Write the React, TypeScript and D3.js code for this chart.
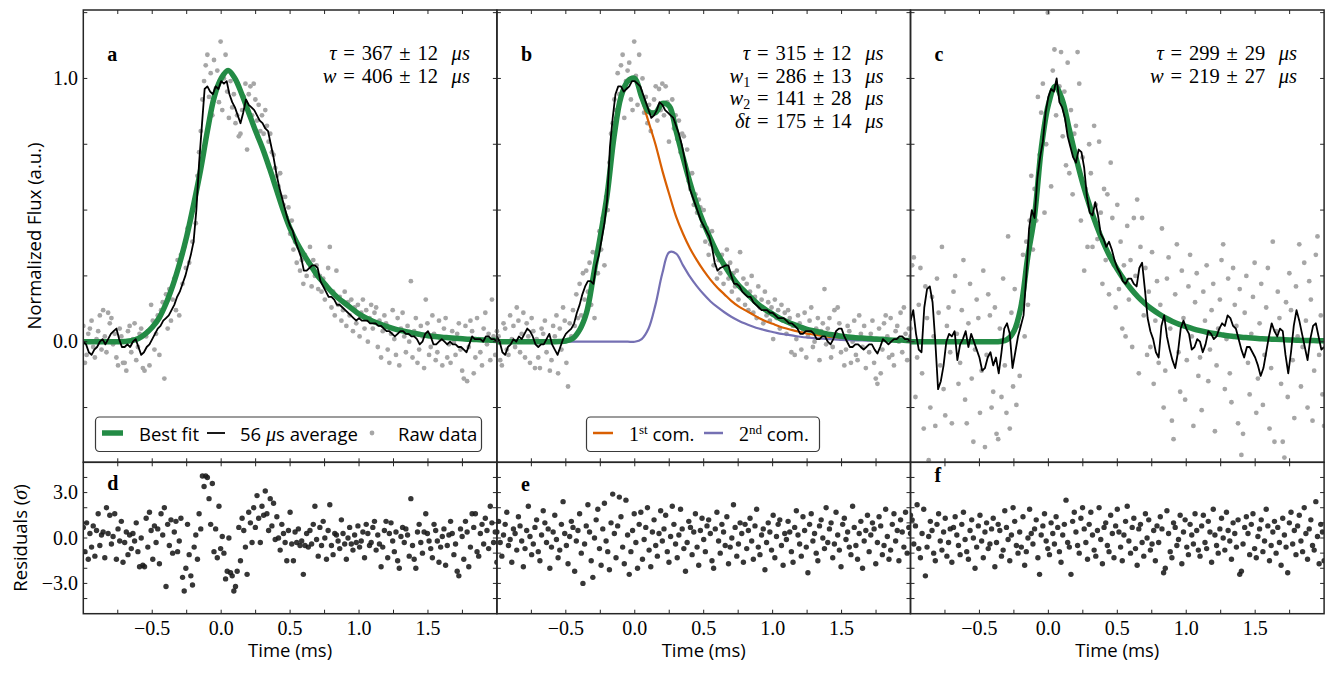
import React from "react";
import * as d3 from "d3";

const W = 1334;
const H = 674;

// time grids in ms; every series below starts at T0
const T0 = -1;
const rawStep = 0.012; // raw samples and residuals
const avgStep = 0.02; // 56 us running average
const fitStep = 0.05; // model curves

const timeDomain = [-1, 2];
const fluxDomain = [-0.458, 1.26];
const residDomain = [-5, 5];

const timeTicks = d3.range(-0.75, 1.9, 0.25);
const timeLabels = [-0.5, 0, 0.5, 1, 1.5];
const fluxTicks = d3.range(-0.25, 1.26, 0.25);
const fluxLabels = [0, 1];
const residTicks = d3.range(-4, 4.01, 1);
const residLabels = [-3, 0, 3];

// ---- panel a ----
const rawA = [
  0.06, -0.08, -0.05, 0.03, 0.05, 0.08, -0.02, -0.06, 0.01, 0.04, 0.1, -0.03, 0.12, 0.02, -0.04, 0.11, 0.07, 0.09, -0.01, 0.03, -0.06, -0.09, 0.05, 0.02, -0.08,
  -0.08, -0.11, 0.04, 0.06, -0.04, 0.01, 0.07, -0.07, -0.02, 0.03, 0.05, -0.1, -0.11, 0.02, 0.04, -0.09, 0.14, 0.08, -0.03, 0.03, 0.1, -0.05, 0.12, 0.15, -0.14,
  0.18, 0.05, 0.2, 0.08, 0.16, 0.24, 0.12, 0.31, 0.1, 0.33, 0.22, 0.36, 0.28, 0.43, 0.3, 0.47, 0.38, 0.52, 0.45, 0.63, 0.72, 0.8, 0.92, 0.99, 1.05,
  1.09, 0.93, 1.02, 0.86, 1.07, 0.96, 1.03, 0.91, 1.14, 0.88, 1.0, 1.09, 0.95, 0.85, 0.99, 0.89, 0.94, 0.83, 0.86, 0.78, 0.79, 0.88, 0.93, 0.98, 0.73,
  0.94, 0.97, 0.86, 0.98, 0.92, 0.84, 0.9, 0.8, 0.86, 0.79, 0.88, 0.82, 0.76, 0.79, 0.72, 0.71, 0.66, 0.63, 0.59, 0.64, 0.55, 0.52, 0.55, 0.47, 0.51,
  0.41, 0.46, 0.35, 0.38, 0.3, 0.36, 0.27, 0.31, 0.22, 0.33, 0.25, 0.3, 0.36, 0.21, 0.31, 0.25, 0.29, 0.2, 0.25, 0.19, 0.24, 0.16, 0.21, 0.28, 0.36,
  0.13, 0.19, 0.1, 0.27, 0.14, 0.17, 0.08, 0.12, 0.19, 0.06, 0.15, 0.1, 0.16, 0.04, 0.13, 0.07, 0.14, 0.02, 0.11, 0.16, 0.05, 0.12, 0.0, 0.09, 0.14,
  0.05, 0.11, 0.13, -0.02, 0.08, -0.06, 0.04, 0.1, 0.07, -0.03, -0.08, 0.03, 0.12, 0.01, -0.05, 0.09, -0.09, 0.05, 0.11, 0.02, -0.04, 0.06, 0.0, 0.23, -0.06,
  0.04, 0.09, -0.08, -0.03, 0.06, 0.02, -0.1, 0.16, 0.07, -0.05, -0.02, 0.1, 0.03, -0.07, -0.04, 0.08, 0.01, -0.09, 0.05, 0.09, -0.06, -0.01, -0.08, 0.04, 0.0,
  -0.05, 0.03, 0.07, -0.03, -0.11, -0.14, 0.06, -0.15, -0.02, 0.08, 0.04, -0.12, -0.06, 0.09, 0.01, -0.04, -0.09, 0.05, 0.11, -0.01, 0.03, -0.07, 0.16, 0.02, -0.05,
  0.04,
];
const avgA = [
  0.0, -0.01, -0.04, -0.05, -0.03, -0.02, 0.0, 0.01, -0.01, 0.01,
  0.03, 0.04, 0.05, 0.01, -0.02, -0.02, -0.01, -0.02, 0.0, 0.01,
  -0.02, -0.05, -0.04, -0.02, -0.01, 0.01, 0.03, 0.05, 0.06, 0.08,
  0.09, 0.1, 0.12, 0.14, 0.17, 0.19, 0.22, 0.25, 0.29, 0.33,
  0.38, 0.5, 0.68, 0.82, 0.96, 0.97, 0.95, 0.94, 0.97, 0.96,
  0.99, 0.98, 0.99, 0.94, 0.91, 0.89, 0.86, 0.83, 0.87, 0.92,
  0.9, 0.89, 0.88, 0.86, 0.84, 0.83, 0.81, 0.8, 0.75, 0.7,
  0.64, 0.59, 0.55, 0.51, 0.47, 0.44, 0.42, 0.38, 0.35, 0.32,
  0.27, 0.27, 0.28, 0.29, 0.29, 0.28, 0.23, 0.21, 0.19, 0.17,
  0.17, 0.16, 0.14, 0.14, 0.13, 0.12, 0.11, 0.1, 0.09, 0.08,
  0.09, 0.08, 0.08, 0.08, 0.07, 0.07, 0.07, 0.06, 0.06, 0.05,
  0.04, 0.04, 0.03, 0.02, 0.03, 0.04, 0.04, 0.03, 0.03, 0.02,
  0.02, 0.01, -0.01, 0.0, 0.03, 0.04, 0.02, -0.01, -0.01, 0.0,
  0.01, 0.0, -0.01, 0.0, -0.01, -0.01, -0.02, -0.02, -0.03, -0.04,
  -0.01, 0.02, 0.01, 0.01, 0.01, 0.0, 0.02, 0.02, 0.01, 0.01,
  0.0,
];
const fitA = [
  0, 0, 0, 0, 0, 0, 0.001, 0.004, 0.012, 0.03,
  0.055, 0.09, 0.145, 0.215, 0.3, 0.4, 0.52, 0.65, 0.8, 0.93,
  1.0, 1.03, 1.0, 0.94, 0.87, 0.8, 0.735, 0.66, 0.58, 0.5,
  0.43, 0.375, 0.33, 0.29, 0.25, 0.22, 0.19, 0.165, 0.145, 0.125,
  0.105, 0.09, 0.078, 0.068, 0.058, 0.05, 0.043, 0.037, 0.032, 0.027,
  0.023, 0.02, 0.017, 0.015, 0.013, 0.011, 0.009, 0.008, 0.007, 0.006,
  0.005,
];
const resD = [
  0.7, -0.9, 1.0, -1.4, 0.3, -0.6, 0.8, -1.2, 0.5, 1.6, -0.5, 0.2, 0.4, -1.3, 2.0, 0.3, 1.5, -0.4, 0.1, 1.6, -1.4, 0.6, -0.2, 1.1, -1.6,
  -0.3, 0.4, -1.1, 0.2, -0.7, 0.3, -0.2, 1.0, -0.9, -1.9, 0.0, -1.8, -1.9, 1.3, -0.6, 1.7, 0.5, -1.4, 0.8, -0.3, 0.6, -1.7, 1.6, 0.2, 2.0,
  -3.2, 0.9, -0.5, 1.2, -1.0, 0.4, 1.1, -0.9, -0.2, 1.3, -2.6, -3.5, -2.0, 0.9, -1.1, -2.5, -3.1, -0.6, 0.2, -1.4, 1.6, 0.6, 4.1, 3.4, 4.1,
  4.0, 2.6, 0.9, 3.6, -0.9, 0.6, -1.3, 2.1, -0.7, 0.1, -1.0, -2.7, -2.2, 0.0, -2.3, -2.5, -3.5, -3.2, -2.2, 0.7, -1.5, 1.3, 0.5, -0.6, -2.4,
  1.7, 1.0, -0.3, 2.0, 0.7, 2.8, 1.3, -0.3, 2.1, 1.5, 3.1, 1.6, 0.5, 2.6, 0.8, 2.3, -0.1, 1.4, 0.0, -0.8, 0.9, 0.3, -0.3, -1.5, 0.5,
  1.7, -0.4, -1.5, 0.4, -0.3, 0.6, -0.5, -0.2, -2.4, -0.5, 0.3, -0.6, 0.5, -0.4, 0.9, 2.1, -0.1, -1.2, 0.7, -0.5, 1.1, 0.0, -1.4, 0.5, 2.2,
  -0.5, -1.1, 0.3, 0.2, -0.2, -0.7, 1.2, 0.3, -0.4, -1.4, 0.0, 0.7, -0.4, -0.8, 0.2, -0.3, 0.8, -0.6, -0.2, 0.4, -1.3, 0.9, 0.3, -0.5, -0.3,
  0.7, 1.1, -0.8, 0.2, -0.4, -1.9, -0.6, 0.5, 1.1, -1.3, 0.3, 1.0, -0.2, -0.9, 0.4, -1.5, -2.0, 0.1, 0.7, -0.3, 0.6, 0.2, -1.2, 2.6, -0.5,
  -1.4, -2.0, 0.4, 0.9, -0.3, -1.0, 0.4, 1.6, 0.3, -0.2, -0.7, -1.3, 0.9, 0.5, -0.2, -1.6, -0.6, 0.1, 0.6, -1.8, -0.5, 0.2, 1.1, 0.3, -1.1,
  -0.4, -2.2, -2.5, 0.6, 0.1, -1.4, 1.1, 0.4, -1.9, -0.6, 1.6, 0.7, 1.6, -0.9, -1.2, 0.3, 0.9, -0.4, 1.3, 0.5, -0.7, 2.1, 1.0, -0.3, 0.4,
  -1.6,
];
const paramsA = [
  { sym: "τ", sub: "", val: 367, err: 12 },
  { sym: "w", sub: "", val: 406, err: 12 },
];

// ---- panel b ----
const rawB = [
  0.04, 0.02, -0.07, -0.09, 0.07, 0.05, -0.03, -0.05, 0.1, 0.01, 0.06, -0.02, 0.13, 0.08, -0.04, 0.03, 0.11, -0.06, 0.07, 0.02, -0.08, 0.09, 0.04, -0.1, 0.01,
  -0.06, -0.1, 0.05, 0.03, 0.08, -0.04, 0.0, -0.11, -0.07, 0.06, 0.02, 0.1, -0.12, 0.05, -0.03, 0.13, 0.08, -0.08, -0.17, 0.07, 0.02, 0.12, 0.06, 0.18, 0.09,
  0.22, 0.1, 0.26, 0.16, 0.27, 0.19, 0.3, 0.14, 0.34, 0.09, 0.33, 0.26, 0.42, 0.35, 0.47, 0.29, 0.55, 0.5, 0.68, 0.79, 0.83, 0.92, 0.88, 1.02, 0.94,
  1.05, 1.09, 0.85, 0.99, 1.03, 1.06, 0.92, 0.88, 1.14, 1.01, 0.9, 1.09, 0.95, 1.0, 0.87, 0.93, 0.83, 0.9, 0.8, 0.87, 0.92, 0.97, 0.84, 0.96, 0.88,
  0.98, 0.86, 0.97, 0.91, 0.76, 0.88, 0.92, 0.81, 0.86, 0.77, 0.84, 0.72, 0.79, 0.78, 0.67, 0.73, 0.61, 0.58, 0.64, 0.52, 0.56, 0.49, 0.54, 0.51, 0.44,
  0.5, 0.38, 0.43, 0.33, 0.37, 0.42, 0.29, 0.35, 0.24, 0.31, 0.26, 0.33, 0.22, 0.29, 0.35, 0.24, 0.3, 0.19, 0.26, 0.21, 0.27, 0.16, 0.34, 0.2, 0.24,
  0.14, 0.22, 0.12, 0.19, 0.25, 0.11, 0.17, 0.09, 0.21, 0.13, 0.16, 0.07, 0.19, 0.1, 0.15, 0.08, 0.13, 0.01, 0.16, 0.09, 0.12, 0.05, 0.14, 0.08, 0.11,
  0.03, 0.12, 0.09, -0.04, 0.06, -0.05, 0.01, 0.1, 0.07, -0.03, 0.04, 0.11, -0.06, 0.02, 0.08, 0.13, -0.02, 0.0, 0.05, 0.09, -0.07, 0.04, 0.07, 0.2, -0.01,
  0.05, 0.09, -0.06, -0.02, 0.12, 0.03, 0.13, 0.07, -0.04, 0.02, -0.09, -0.03, 0.06, 0.04, -0.08, 0.0, 0.08, -0.05, -0.07, 0.1, 0.03, -0.02, 0.06, -0.1, 0.01,
  -0.04, 0.03, 0.08, -0.08, -0.14, -0.16, 0.05, -0.12, -0.03, 0.07, 0.1, 0.02, -0.06, 0.09, -0.05, -0.09, 0.04, 0.06, 0.0, 0.11, -0.04, 0.13, 0.03, -0.07, 0.05,
  0.02,
];
const avgB = [
  0.02, 0.0, -0.04, -0.05, -0.02, -0.01, 0.01, 0.0, 0.02, 0.01,
  0.03, 0.05, 0.04, 0.02, -0.01, -0.02, -0.01, -0.01, 0.01, 0.03,
  -0.01, -0.03, -0.05, -0.02, 0.01, 0.03, 0.04, 0.05, 0.07, 0.11,
  0.14, 0.18, 0.21, 0.23, 0.23, 0.22, 0.29, 0.33, 0.39, 0.45,
  0.54, 0.74, 0.85, 0.94, 0.97, 0.97, 0.95, 0.96, 0.97, 0.99,
  0.99, 0.98, 0.97, 0.94, 0.91, 0.88, 0.85, 0.86, 0.88, 0.91,
  0.9, 0.88, 0.87, 0.86, 0.85, 0.82, 0.79, 0.75, 0.7, 0.64,
  0.58, 0.55, 0.52, 0.49, 0.46, 0.44, 0.42, 0.4, 0.36, 0.3,
  0.27, 0.28, 0.285, 0.29, 0.29, 0.25, 0.22, 0.22, 0.21, 0.19,
  0.18, 0.17, 0.17, 0.15, 0.14, 0.13, 0.12, 0.12, 0.12, 0.11,
  0.11, 0.1, 0.09, 0.09, 0.09, 0.08, 0.07, 0.07, 0.06, 0.05,
  0.03, 0.03, 0.04, 0.04, 0.04, 0.03, 0.01, 0.01, 0.02, 0.02,
  0.0, -0.01, 0.01, 0.04, 0.05, 0.05, 0.02, 0.0, -0.02, -0.02,
  -0.01, -0.01, -0.02, -0.03, -0.02, -0.01, -0.01, -0.03, -0.045, -0.02,
  0.01, 0.0, -0.01, 0.0, 0.01, 0.01, 0.02, 0.02, 0.01, 0.01,
  0.0,
];
const fitB = [
  0, 0, 0, 0, 0, 0, 0, 0, 0, 0.001,
  0.003, 0.012, 0.045, 0.11, 0.25, 0.4, 0.56, 0.78, 0.93, 0.99,
  1.0, 0.93, 0.875, 0.87, 0.905, 0.895, 0.8, 0.7, 0.605, 0.52,
  0.45, 0.39, 0.335, 0.29, 0.25, 0.216, 0.19, 0.164, 0.14, 0.121,
  0.105, 0.089, 0.077, 0.066, 0.056, 0.047, 0.041, 0.035, 0.029, 0.025,
  0.021, 0.018, 0.015, 0.014, 0.012, 0.01, 0.009, 0.007, 0.006, 0.006,
  0.004,
];
const comp1B = [
  0, 0, 0, 0, 0, 0, 0, 0, 0, 0.001,
  0.003, 0.012, 0.045, 0.11, 0.25, 0.4, 0.56, 0.78, 0.93, 0.99,
  1.0, 0.92, 0.835, 0.75, 0.65, 0.56, 0.475, 0.41, 0.355, 0.31,
  0.27, 0.235, 0.205, 0.18, 0.155, 0.135, 0.12, 0.105, 0.09, 0.078,
  0.068, 0.058, 0.05, 0.043, 0.037, 0.031, 0.027, 0.023, 0.019, 0.016,
  0.014, 0.012, 0.01, 0.009, 0.008, 0.007, 0.006, 0.005, 0.004, 0.004,
  0.003,
];
const comp2B = [
  0, 0, 0, 0, 0, 0, 0, 0, 0, 0,
  0, 0, 0, 0, 0, 0, 0, 0, 0, 0,
  0, 0.01, 0.05, 0.14, 0.26, 0.34, 0.335, 0.29, 0.247, 0.211,
  0.18, 0.153, 0.131, 0.112, 0.095, 0.081, 0.069, 0.059, 0.05, 0.043,
  0.037, 0.031, 0.027, 0.023, 0.019, 0.016, 0.014, 0.012, 0.01, 0.009,
  0.007, 0.006, 0.005, 0.005, 0.004, 0.003, 0.003, 0.002, 0.002, 0.002,
  0.001,
];
const resE = [
  0.4, 1.1, -0.3, -1.2, 0.2, 0.9, 1.7, -0.5, -0.1, -1.6, 0.6, 0.3, -0.8, 1.4, 0.8, -0.2, -1.9, -0.7, 0.5, 2.1, 0.1, -1.1, -0.4, 0.7, 1.2,
  -0.9, -1.5, 0.2, 1.8, 1.0, -0.3, 0.6, -2.0, -0.6, 0.4, 1.5, -0.1, -1.3, -0.8, 0.9, 2.4, 0.3, -0.5, -1.7, 0.1, 1.1, 0.7, -2.2, -0.2, 0.5,
  1.6, -1.0, -3.0, -0.4, 0.8, 2.2, 0.4, -1.5, -2.6, 0.0, 1.2, 1.9, -0.7, -1.8, 0.6, 2.3, -0.2, -0.9, -2.1, 1.0, 2.9, 0.3, -1.3, 0.8, 2.7,
  1.4, -0.6, -1.7, 2.5, 0.2, -2.4, -0.9, 0.5, 1.6, -0.3, -2.0, 0.9, 1.7, -1.4, -0.1, 0.7, 2.0, -0.8, -1.9, 0.4, 1.2, -0.5, -1.2, 0.3, 1.8,
  -0.2, 0.6, 1.5, -0.9, -1.6, 0.1, 2.1, 0.9, -0.4, -1.3, 0.2, 1.9, 0.6, -0.7, -2.2, -0.3, 1.1, 0.7, -1.1, 0.4, 1.6, -0.6, -1.8, 0.5, 1.3,
  -0.1, -0.9, 0.8, 1.2, 0.3, -1.5, -2.0, 0.6, 1.7, -0.2, -1.0, 0.9, 0.4, -0.5, 1.4, -1.7, -0.6, 0.0, 2.2, 0.7, -1.2, -0.4, 1.0, 0.3, -1.6,
  0.9, -0.7, 0.5, 1.3, -0.2, -1.4, 0.8, 1.9, -0.6, -1.1, 0.2, 0.6, -2.1, -0.3, 1.0, 0.4, -0.8, 1.5, -1.3, 0.1, 0.9, 1.2, -0.5, -1.8, 0.3,
  -0.1, 1.1, 0.4, -0.9, -1.6, 0.7, 1.8, 0.2, -0.4, -1.2, 1.4, 0.5, -0.6, -2.3, 0.9, 1.6, -0.2, 0.3, -1.0, -1.5, 0.8, 1.2, 0.0, -0.7, 2.0,
  -0.3, 0.6, 1.0, -1.3, -0.4, 1.7, 0.2, -0.8, -1.9, 0.9, 1.3, -0.1, 0.4, -0.6, -1.1, 2.1, 0.7, -0.5, -1.4, 0.3, 1.1, -2.0, -0.2, 0.5, 1.5,
  -0.9, 0.2, 1.0, 0.6, -1.7, -0.3, 1.4, 0.8, -1.1, -0.5, 1.9, 0.1, -1.4, -0.8, 0.9, 1.6, -0.2, 0.5, -1.5, 1.2, 0.4, -0.6, 1.7, -1.0, 0.7,
  0.3,
];
const paramsB = [
  { sym: "τ", sub: "", val: 315, err: 12 },
  { sym: "w", sub: "1", val: 286, err: 13 },
  { sym: "w", sub: "2", val: 141, err: 28 },
  { sym: "δt", sub: "", val: 175, err: 14 },
];

// ---- panel c ----
const rawC = [
  0.05, 0.29, 0.32, -0.21, -0.06, 0.14, 0.28, -0.12, -0.33, 0.21, 0.09, -0.45, -0.25, 0.17, 0.02, -0.32, 0.24, 0.11, -0.09, 0.36, -0.18, -0.28, 0.06, 0.13, -0.04,
  -0.31, 0.19, 0.25, 0.03, -0.16, -0.08, 0.12, 0.31, -0.22, -0.31, 0.07, 0.22, -0.14, -0.38, -0.03, 0.16, 0.09, -0.27, -0.11, 0.27, -0.4, -0.05, 0.18, 0.1, -0.25,
  -0.19, 0.13, -0.35, -0.37, 0.05, -0.21, 0.24, -0.09, -0.27, 0.4, -0.33, 0.11, -0.17, 0.2, -0.24, 0.06, -0.13, 0.15, 0.33, 0.02, 0.38, 0.14, 0.46, 0.63, 0.35,
  0.58, 0.46, 0.93, 0.71, 0.87, 0.98, 0.49, 0.75, 1.25, 0.92, 0.59, 1.03, 1.11, 0.86, 1.38, 0.97, 1.1, 0.78, 0.95, 0.67, 1.06, 0.64, 0.88, 0.56, 0.79,
  0.82, 1.1, 0.98, 0.46, 0.7, 0.27, 0.58, 0.36, 0.75, 0.64, 0.36, 0.82, 0.52, 0.39, 0.76, 0.49, 0.22, 0.58, 0.31, 0.56, 0.18, 0.68, 0.47, 0.29, 0.13,
  0.52, 0.2, 0.38, 0.05, 0.29, 0.02, 0.44, 0.16, 0.31, -0.02, 0.47, 0.25, 0.54, -0.12, 0.36, 0.47, 0.1, 0.28, -0.05, 0.19, -0.02, 0.34, -0.16, 0.08, 0.23,
  -0.08, 0.14, 0.43, -0.25, -0.11, 0.24, 0.32, 0.05, -0.3, -0.37, 0.18, 0.37, -0.04, -0.19, 0.27, 0.09, -0.22, -0.07, 0.21, 0.33, 0.02, -0.32, 0.15, 0.26, -0.13,
  -0.06, -0.26, 0.19, 0.08, 0.29, -0.15, -0.03, 0.12, 0.22, -0.34, -0.09, 0.05, 0.16, 0.31, 0.37, -0.18, 0.01, 0.24, -0.12, -0.23, 0.28, 0.14, 0.06, -0.31, 0.2,
  -0.43, -0.35, 0.11, 0.25, -0.08, -0.2, 0.03, 0.17, 0.3, -0.27, -0.14, 0.07, 0.22, -0.24, -0.05, 0.13, 0.28, -0.33, -0.1, 0.38, -0.38, 0.04, 0.19, 0.09, -0.16,
  -0.38, -0.44, 0.15, -0.21, 0.26, 0.12, -0.07, -0.29, 0.21, 0.02, 0.37, -0.17, -0.02, 0.3, 0.08, -0.25, 0.23, 0.16, -0.3, -0.11, 0.33, 0.4, -0.05, 0.1, -0.2,
  -0.32,
];
const avgC = [
  0.08, 0.12, 0.03, -0.03, -0.04, 0.13, 0.2, 0.21, 0.15, 0.0,
  -0.18, -0.15, -0.09, 0.0, 0.03, 0.02, 0.04, -0.07, -0.01, 0.01,
  0.04, -0.02, 0.03, 0.0, -0.03, -0.06, -0.11, -0.1, -0.06, -0.04,
  -0.09, -0.06, -0.12, -0.04, 0.05, 0.07, 0.03, -0.1, -0.04, 0.02,
  0.06, 0.1, 0.25, 0.43, 0.5, 0.47, 0.62, 0.7, 0.76, 0.87,
  0.93, 0.96, 0.95, 1.0, 0.91, 0.89, 0.85, 0.78, 0.74, 0.7,
  0.68, 0.73, 0.72, 0.66, 0.55, 0.49, 0.48, 0.53, 0.48, 0.41,
  0.39, 0.36, 0.38, 0.35, 0.31, 0.28, 0.26, 0.23, 0.22, 0.24,
  0.24, 0.22, 0.21, 0.28, 0.3, 0.2, 0.09, 0.04, 0.01, -0.04,
  -0.06, 0.06, 0.1, 0.02, -0.03, -0.07, -0.1, -0.04, 0.05, 0.08,
  0.05, 0.03, -0.03, -0.02, 0.01, 0.0, -0.04, -0.01, 0.04, 0.03,
  0.01, 0.02, 0.05, 0.07, 0.06, 0.1, 0.09, 0.06, 0.05, 0.01,
  -0.03, -0.06, -0.02, -0.02, -0.04, -0.06, -0.09, -0.13, -0.1, -0.04,
  0.02, 0.07, 0.04, 0.02, 0.05, 0.04, -0.05, -0.12, -0.04, 0.06,
  0.12, 0.08, 0.03, -0.02, -0.07, 0.01, 0.06, 0.07, 0.02, -0.03,
  -0.02,
];
const fitC = [
  0, 0, 0, 0, 0, 0, 0, 0, 0, 0,
  0, 0, 0, 0.001, 0.008, 0.04, 0.13, 0.32, 0.48, 0.74,
  0.9, 0.97, 0.92, 0.81, 0.7, 0.6, 0.515, 0.44, 0.375, 0.32,
  0.275, 0.235, 0.2, 0.17, 0.145, 0.124, 0.106, 0.09, 0.077, 0.066,
  0.057, 0.049, 0.042, 0.036, 0.031, 0.027, 0.023, 0.02, 0.017, 0.015,
  0.013, 0.011, 0.01, 0.009, 0.008, 0.007, 0.006, 0.005, 0.005, 0.004,
  0.004,
];
const resF = [
  1.5, 1.2, -0.4, 0.8, 2.2, -0.7, -1.3, 0.3, 1.9, -2.5, -0.6, 0.1, 1.1, 0.5, -1.0, -1.5, 0.9, 1.6, -0.2, -0.8, 0.4, 1.3, -1.2, -0.3, 0.6,
  -1.6, 0.7, 1.4, 0.2, -0.5, -1.1, 0.9, 1.7, -0.1, -0.9, -1.4, 0.5, 1.2, 0.0, -2.0, -0.6, 0.8, 1.5, -0.2, -1.3, 0.4, 1.0, -0.7, -0.4, 0.6,
  1.3, -1.9, -0.3, 0.9, 0.5, -1.2, -0.8, 1.8, 0.7, -0.1, -1.5, 0.2, 2.0, 1.1, -0.5, -1.0, 0.4, -0.6, 1.4, -1.8, -0.9, 0.0, 1.9, 0.3, -0.4,
  0.6, 1.2, -1.3, -2.4, 0.2, 0.8, 1.6, -0.2, -0.7, -1.1, 1.0, 0.3, -0.4, 1.4, 0.7, -0.9, -1.6, 0.2, 0.9, 2.5, -0.3, -0.6, -2.4, 1.1, 1.7,
  0.4, -0.5, -1.0, 1.3, 2.0, 0.6, -0.3, -1.4, 0.9, 1.7, 0.2, -0.8, -1.2, 0.5, 2.0, -0.1, -1.7, 0.7, 1.0, -0.5, -0.9, 1.5, 0.3, -1.3, 0.8,
  1.9, 0.4, -0.6, -1.5, 0.2, 1.1, 2.1, -0.2, -1.0, 0.7, 1.3, -0.7, -1.8, 0.6, 0.9, -0.3, -1.2, 1.6, 0.0, 1.2, -0.8, -0.4, 0.5, -1.5, 0.8,
  -0.3, 1.4, 0.6, -2.3, -2.0, 1.8, 0.3, -0.9, -1.3, 1.0, 0.7, -0.5, -0.1, 1.5, -1.7, 0.4, 1.2, -0.6, -1.1, 0.9, 0.2, -0.4, 1.6, 0.5, -0.8,
  -1.2, 0.8, 1.5, -0.3, -0.7, 1.1, 0.4, -1.6, 1.9, 0.2, -0.5, -1.0, 0.6, 1.3, 0.0, -0.8, 1.7, 0.5, -0.2, -1.4, 1.0, 0.3, -0.6, 1.2, -2.4,
  -2.2, -0.4, 0.7, 1.4, 0.3, -1.1, 0.9, 1.6, -0.7, -1.3, 0.1, 0.6, 1.2, -0.9, -0.2, 1.9, 0.8, -1.5, -0.5, 0.4, 1.1, -1.0, 0.7, -0.3, -1.8,
  1.3, 0.2, -0.6, -2.3, 1.0, 1.7, -0.4, 0.5, -1.1, 0.8, 1.5, -0.2, -0.9, 2.0, 0.3, -1.4, 0.6, 1.2, -0.5, -0.8, 2.4, 0.1, -1.7, 0.9, 0.4,
  -1.5,
];
const paramsC = [
  { sym: "τ", sub: "", val: 299, err: 29 },
  { sym: "w", sub: "", val: 219, err: 27 },
];

const GREEN = "#238b45";
const ORANGE = "#d95f02";
const PURPLE = "#7570b3";
const GRAY = "#a6a6a6";
const INK = "#262626";
const serif = "'Liberation Serif', 'DejaVu Serif', serif";
const sans = "'Open Sans', Lato, sans-serif";

const X_EDGES = [83.3, 496.9, 910.5, 1324.1];
const TOP = { y0: 10, y1: 462.3 };
const BOT = { y0: 462.3, y1: 613.7 };

const panels = [
  { top: "a", bot: "d", botY: 490, raw: rawA, avg: avgA, fit: fitA, res: resD, params: paramsA, comps: null as null | number[][] },
  { top: "b", bot: "e", botY: 490.5, raw: rawB, avg: avgB, fit: fitB, res: resE, params: paramsB, comps: [comp1B, comp2B] },
  { top: "c", bot: "f", botY: 482, raw: rawC, avg: avgC, fit: fitC, res: resF, params: paramsC, comps: null as null | number[][] },
];

const fmt = d3.format(".1f");

function Panel({ i }: { i: number }) {
  const p = panels[i];
  const x0 = X_EDGES[i];
  const x1 = X_EDGES[i + 1];
  const x = d3.scaleLinear().domain(timeDomain).range([x0, x1]);
  const yT = d3.scaleLinear().domain(fluxDomain).range([TOP.y1, TOP.y0]);
  const yB = d3.scaleLinear().domain(residDomain).range([BOT.y1, BOT.y0]);
  const tAt = (step: number, k: number) => T0 + k * step;
  const fitLine = d3
    .line<number>()
    .x((_, k) => x(tAt(fitStep, k)))
    .y((v) => yT(v))
    .curve(d3.curveCatmullRom);
  const avgLine = d3
    .line<number>()
    .x((_, k) => x(tAt(avgStep, k)))
    .y((v) => yT(v));

  const tickLen = 4;
  const hTicks = (ya: number, yb: number) =>
    timeTicks.map((t) => (
      <g key={"h" + t}>
        <line x1={x(t)} x2={x(t)} y1={ya} y2={ya + tickLen} />
        <line x1={x(t)} x2={x(t)} y1={yb} y2={yb - tickLen} />
      </g>
    ));
  const vTicks = (vals: number[], y: d3.ScaleLinear<number, number>) =>
    vals.map((v) => (
      <g key={"v" + v}>
        <line x1={x0} x2={x0 + tickLen} y1={y(v)} y2={y(v)} />
        <line x1={x1} x2={x1 - tickLen} y1={y(v)} y2={y(v)} />
      </g>
    ));

  return (
    <g>
      <defs>
        <clipPath id={"ct" + i}>
          <rect x={x0} y={TOP.y0} width={x1 - x0} height={TOP.y1 - TOP.y0} />
        </clipPath>
        <clipPath id={"cb" + i}>
          <rect x={x0} y={BOT.y0} width={x1 - x0} height={BOT.y1 - BOT.y0} />
        </clipPath>
      </defs>

      <g clipPath={`url(#ct${i})`}>
        {p.raw.map((v, k) => (
          <circle key={k} cx={x(tAt(rawStep, k))} cy={yT(v)} r={2.4} fill={GRAY} />
        ))}
        {p.comps &&
          p.comps.map((c, k) => (
            <path key={k} d={fitLine(c) || ""} fill="none" stroke={k === 0 ? ORANGE : PURPLE} strokeWidth={2.2} />
          ))}
        <path d={fitLine(p.fit) || ""} fill="none" stroke={GREEN} strokeWidth={5.5} />
        <path d={avgLine(p.avg) || ""} fill="none" stroke="#000" strokeWidth={1.8} strokeLinejoin="round" />
      </g>

      <g clipPath={`url(#cb${i})`}>
        {p.res.map((v, k) => (
          <circle key={k} cx={x(tAt(rawStep, k))} cy={yB(v)} r={2.7} fill="#1a1a1a" fillOpacity={0.88} />
        ))}
      </g>

      <g stroke={INK} strokeWidth={1}>
        {hTicks(TOP.y0, TOP.y1)}
        {hTicks(BOT.y0, BOT.y1)}
        {vTicks(fluxTicks, yT)}
        {vTicks(residTicks, yB)}
      </g>
      <rect x={x0} y={TOP.y0} width={x1 - x0} height={TOP.y1 - TOP.y0} fill="none" stroke={INK} strokeWidth={1.5} />
      <rect x={x0} y={BOT.y0} width={x1 - x0} height={BOT.y1 - BOT.y0} fill="none" stroke={INK} strokeWidth={1.5} />

      {timeLabels.map((t) => (
        <text key={t} x={x(t)} y={635} textAnchor="middle" fontFamily={serif} fontSize={20}>
          {fmt(t)}
        </text>
      ))}
      <text x={(x0 + x1) / 2} y={657} textAnchor="middle" fontFamily={sans} fontSize={18.5}>
        Time (ms)
      </text>

      {i === 0 && (
        <g fontFamily={serif} fontSize={20} textAnchor="end">
          {fluxLabels.map((v) => (
            <text key={"f" + v} x={78} y={yT(v) + 6.5}>
              {fmt(v)}
            </text>
          ))}
          {residLabels.map((v) => (
            <text key={"r" + v} x={78} y={yB(v) + 6.5}>
              {fmt(v)}
            </text>
          ))}
        </g>
      )}

      {/* panel letters */}
      <text x={x0 + 24} y={61} fontFamily={serif} fontWeight="bold" fontSize={20}>
        {p.top}
      </text>
      <text x={x0 + 24} y={p.botY} fontFamily={serif} fontWeight="bold" fontSize={20}>
        {p.bot}
      </text>

      {/* fit parameters */}
      {p.params.map((q, k) => (
        <text
          key={k}
          x={x1 - 27}
          y={60 + k * 22.7}
          textAnchor="end"
          fontFamily={serif}
          fontSize={20.5}
          style={{ whiteSpace: "pre" }}
        >
          <tspan fontStyle="italic">{q.sym}</tspan>
          {q.sub ? (
            <tspan fontSize={14} dy={4}>
              {q.sub}
            </tspan>
          ) : null}
          <tspan dy={q.sub ? -4 : 0}>{`\u2004=\u2004${q.val}\u2004±\u2004${q.err}\u2002\u2006`}</tspan>
          <tspan fontStyle="italic">μs</tspan>
        </text>
      ))}
    </g>
  );
}

function Legends() {
  const ly = 433;
  const ty = 440.5;
  return (
    <g fontFamily={sans} fontSize={18.5}>
      <rect x={95.5} y={417} width={386} height={34.5} rx={4} fill="#fff" fillOpacity={0.9} stroke="#3a3a3a" strokeWidth={1.2} />
      <line x1={102} x2={123} y1={ly} y2={ly} stroke={GREEN} strokeWidth={5.5} />
      <text x={139} y={ty}>Best fit</text>
      <line x1={207} x2={225} y1={ly} y2={ly} stroke="#000" strokeWidth={1.8} />
      <text x={240} y={ty} style={{ whiteSpace: "pre" }}>
        {"56 "}
        <tspan fontFamily={serif} fontStyle="italic" fontSize={20}>μ</tspan>
        {"s average"}
      </text>
      <circle cx={372} cy={ly} r={2.4} fill={GRAY} />
      <text x={398} y={ty}>Raw data</text>

      <rect x={586.5} y={417} width={233} height={34.5} rx={4} fill="#fff" fillOpacity={0.9} stroke="#3a3a3a" strokeWidth={1.2} />
      <line x1={593} x2={613} y1={ly} y2={ly} stroke={ORANGE} strokeWidth={2.5} />
      <text x={629} y={ty} style={{ whiteSpace: "pre" }}>
        <tspan fontFamily={serif} fontSize={20}>1</tspan>
        <tspan fontFamily={serif} fontSize={13} dy={-7}>st</tspan>
        <tspan dy={7}>{" com."}</tspan>
      </text>
      <line x1={704} x2={723} y1={ly} y2={ly} stroke={PURPLE} strokeWidth={2.5} />
      <text x={739} y={ty} style={{ whiteSpace: "pre" }}>
        <tspan fontFamily={serif} fontSize={20}>2</tspan>
        <tspan fontFamily={serif} fontSize={13} dy={-7}>nd</tspan>
        <tspan dy={7}>{" com."}</tspan>
      </text>
    </g>
  );
}

export default function App() {
  return (
    <div style={{ position: "absolute", left: 0, top: 0 }}>
      <svg width={W} height={H} viewBox={`0 0 ${W} ${H}`} style={{ display: "block", background: "#fff" }}>
        {panels.map((_, i) => (
          <Panel key={i} i={i} />
        ))}
        <Legends />
        <text transform="translate(41,236) rotate(-90)" textAnchor="middle" fontFamily={sans} fontSize={18.5}>
          Normalized Flux (a.u.)
        </text>
        <text transform="translate(27,538) rotate(-90)" textAnchor="middle" fontFamily={sans} fontSize={18.5}>
          Residuals (
          <tspan fontFamily={serif} fontStyle="italic" fontSize={20}>σ</tspan>)
        </text>
      </svg>
    </div>
  );
}
